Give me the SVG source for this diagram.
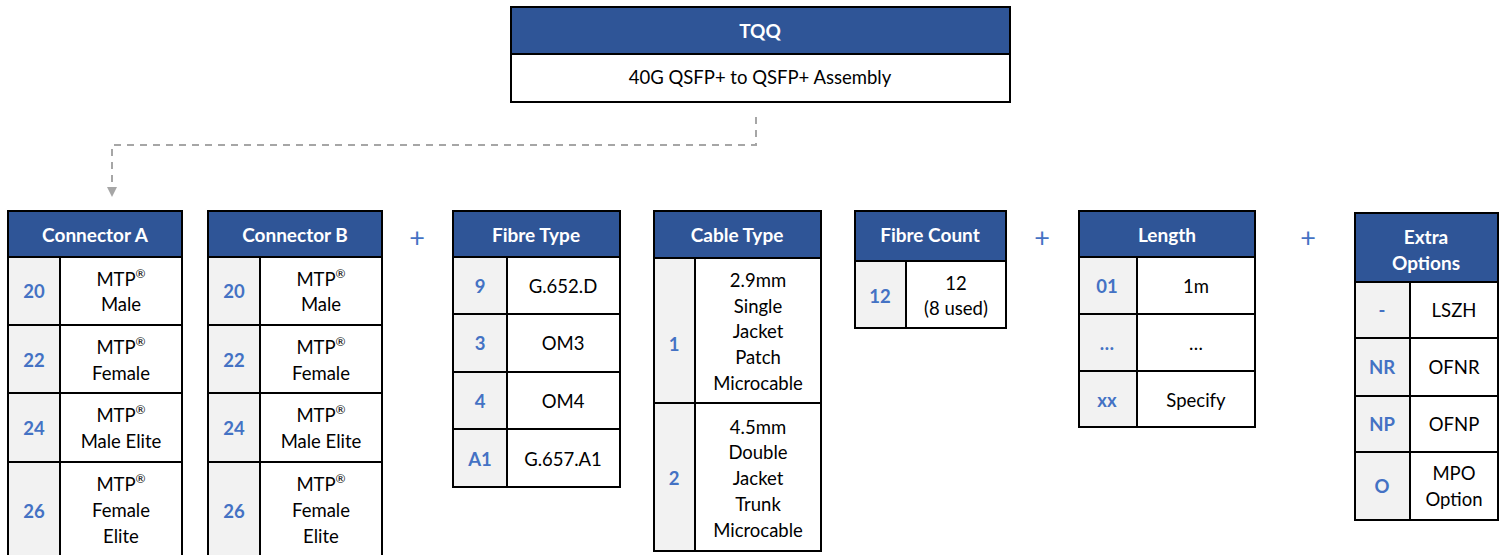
<svg xmlns="http://www.w3.org/2000/svg" width="1507" height="555" viewBox="0 0 1507 555">
<style>
  .hdr{fill:#2F5597;stroke:#000;stroke-width:2}
  .cell{fill:#fff;stroke:#000;stroke-width:2}
  .code{fill:#F2F2F2;stroke:#000;stroke-width:2}
  text{font-family:"Lato","Open Sans","Liberation Sans",sans-serif;font-size:18.5px;text-anchor:middle;dominant-baseline:central}
  .ht{fill:#fff;font-weight:bold;font-size:19px}
  .ct{fill:#4472C4;font-weight:bold}
  .bt{fill:#000}
  .plus{fill:#4472C4;font-size:27px}
  .sup{font-size:12px}
  .conn{fill:none;stroke:#A6A6A6;stroke-width:2;stroke-dasharray:7 6}
</style>

<g id="connectors">
  <path class="conn" d="M756,117 V145 H112 V186"/>
  <path d="M107,187 L117,187 L112,197 Z" fill="#A6A6A6"/>
</g>

<g id="tqq">
  <rect class="hdr" x="511" y="7" width="499" height="47"/>
  <rect class="cell" x="511" y="54" width="499" height="48"/>
  <text class="ht" x="760" y="30">TQQ</text>
  <text class="bt" x="760" y="77">40G QSFP+ to QSFP+ Assembly</text>
</g>

<g id="connector-a">
  <rect class="hdr" x="8" y="211" width="174" height="46"/>
  <text class="ht" x="95" y="234">Connector A</text>
  <rect class="code" x="8" y="257" width="52" height="68"/>
  <rect class="cell" x="60" y="257" width="122" height="68"/>
  <rect class="code" x="8" y="325" width="52" height="68"/>
  <rect class="cell" x="60" y="325" width="122" height="68"/>
  <rect class="code" x="8" y="393" width="52" height="69"/>
  <rect class="cell" x="60" y="393" width="122" height="69"/>
  <rect class="code" x="8" y="462" width="52" height="100"/>
  <rect class="cell" x="60" y="462" width="122" height="100"/>
  <text class="ct" x="34" y="291">20</text>
  <text class="bt" x="121" y="279">MTP<tspan class="sup" dy="-6">®</tspan></text>
  <text class="bt" x="121" y="304">Male</text>
  <text class="ct" x="34" y="360">22</text>
  <text class="bt" x="121" y="347">MTP<tspan class="sup" dy="-6">®</tspan></text>
  <text class="bt" x="121" y="373">Female</text>
  <text class="ct" x="34" y="428">24</text>
  <text class="bt" x="121" y="415">MTP<tspan class="sup" dy="-6">®</tspan></text>
  <text class="bt" x="121" y="441">Male Elite</text>
  <text class="ct" x="34" y="511">26</text>
  <text class="bt" x="121" y="484">MTP<tspan class="sup" dy="-6">®</tspan></text>
  <text class="bt" x="121" y="510">Female</text>
  <text class="bt" x="121" y="536">Elite</text>
</g>

<g id="connector-b">
  <rect class="hdr" x="208" y="211" width="174" height="46"/>
  <text class="ht" x="295" y="234">Connector B</text>
  <rect class="code" x="208" y="257" width="52" height="68"/>
  <rect class="cell" x="260" y="257" width="122" height="68"/>
  <rect class="code" x="208" y="325" width="52" height="68"/>
  <rect class="cell" x="260" y="325" width="122" height="68"/>
  <rect class="code" x="208" y="393" width="52" height="69"/>
  <rect class="cell" x="260" y="393" width="122" height="69"/>
  <rect class="code" x="208" y="462" width="52" height="100"/>
  <rect class="cell" x="260" y="462" width="122" height="100"/>
  <text class="ct" x="234" y="291">20</text>
  <text class="bt" x="321" y="279">MTP<tspan class="sup" dy="-6">®</tspan></text>
  <text class="bt" x="321" y="304">Male</text>
  <text class="ct" x="234" y="360">22</text>
  <text class="bt" x="321" y="347">MTP<tspan class="sup" dy="-6">®</tspan></text>
  <text class="bt" x="321" y="373">Female</text>
  <text class="ct" x="234" y="428">24</text>
  <text class="bt" x="321" y="415">MTP<tspan class="sup" dy="-6">®</tspan></text>
  <text class="bt" x="321" y="441">Male Elite</text>
  <text class="ct" x="234" y="511">26</text>
  <text class="bt" x="321" y="484">MTP<tspan class="sup" dy="-6">®</tspan></text>
  <text class="bt" x="321" y="510">Female</text>
  <text class="bt" x="321" y="536">Elite</text>
</g>

<g id="plus-1"><text class="plus" x="417" y="236">+</text></g>

<g id="fibre-type">
  <rect class="hdr" x="453" y="211" width="167" height="46"/>
  <text class="ht" x="536" y="234">Fibre Type</text>
  <rect class="code" x="453" y="257" width="54" height="57"/>
  <rect class="cell" x="507" y="257" width="113" height="57"/>
  <rect class="code" x="453" y="314" width="54" height="58"/>
  <rect class="cell" x="507" y="314" width="113" height="58"/>
  <rect class="code" x="453" y="372" width="54" height="57"/>
  <rect class="cell" x="507" y="372" width="113" height="57"/>
  <rect class="code" x="453" y="429" width="54" height="58"/>
  <rect class="cell" x="507" y="429" width="113" height="58"/>
  <text class="ct" x="480" y="286">9</text>
  <text class="bt" x="563" y="286">G.652.D</text>
  <text class="ct" x="480" y="343">3</text>
  <text class="bt" x="563" y="343">OM3</text>
  <text class="ct" x="480" y="401">4</text>
  <text class="bt" x="563" y="401">OM4</text>
  <text class="ct" x="480" y="459">A1</text>
  <text class="bt" x="563" y="459">G.657.A1</text>
</g>

<g id="cable-type">
  <rect class="hdr" x="654" y="211" width="167" height="47"/>
  <text class="ht" x="737" y="234">Cable Type</text>
  <rect class="code" x="654" y="258" width="41" height="145"/>
  <rect class="cell" x="695" y="258" width="126" height="145"/>
  <rect class="code" x="654" y="403" width="41" height="148"/>
  <rect class="cell" x="695" y="403" width="126" height="148"/>
  <text class="ct" x="674" y="344">1</text>
  <text class="bt" x="758" y="280">2.9mm</text>
  <text class="bt" x="758" y="306">Single</text>
  <text class="bt" x="758" y="331">Jacket</text>
  <text class="bt" x="758" y="357">Patch</text>
  <text class="bt" x="758" y="383">Microcable</text>
  <text class="ct" x="674" y="478">2</text>
  <text class="bt" x="758" y="427">4.5mm</text>
  <text class="bt" x="758" y="452">Double</text>
  <text class="bt" x="758" y="478">Jacket</text>
  <text class="bt" x="758" y="504">Trunk</text>
  <text class="bt" x="758" y="530">Microcable</text>
</g>

<g id="fibre-count">
  <rect class="hdr" x="855" y="211" width="151" height="50"/>
  <text class="ht" x="930" y="234">Fibre Count</text>
  <rect class="code" x="855" y="261" width="51" height="67"/>
  <rect class="cell" x="906" y="261" width="100" height="67"/>
  <text class="ct" x="880" y="296">12</text>
  <text class="bt" x="956" y="283">12</text>
  <text class="bt" x="956" y="308">(8 used)</text>
</g>

<g id="plus-2"><text class="plus" x="1042" y="236">+</text></g>

<g id="length">
  <rect class="hdr" x="1079" y="211" width="176" height="46"/>
  <text class="ht" x="1167" y="234">Length</text>
  <rect class="code" x="1079" y="257" width="58" height="57"/>
  <rect class="cell" x="1137" y="257" width="118" height="57"/>
  <rect class="code" x="1079" y="314" width="58" height="57"/>
  <rect class="cell" x="1137" y="314" width="118" height="57"/>
  <rect class="code" x="1079" y="371" width="58" height="56"/>
  <rect class="cell" x="1137" y="371" width="118" height="56"/>
  <text class="ct" x="1107" y="286">01</text>
  <text class="bt" x="1196" y="286">1m</text>
  <text class="ct" x="1107" y="343">…</text>
  <text class="bt" x="1196" y="343">…</text>
  <text class="ct" x="1107" y="400">xx</text>
  <text class="bt" x="1196" y="400">Specify</text>
</g>

<g id="plus-3"><text class="plus" x="1308" y="236">+</text></g>

<g id="extra-options">
  <rect class="hdr" x="1355" y="213" width="143" height="69"/>
  <text class="ht" x="1426" y="236">Extra</text>
  <text class="ht" x="1426" y="262">Options</text>
  <rect class="code" x="1355" y="282" width="55" height="56"/>
  <rect class="cell" x="1410" y="282" width="88" height="56"/>
  <rect class="code" x="1355" y="338" width="55" height="58"/>
  <rect class="cell" x="1410" y="338" width="88" height="58"/>
  <rect class="code" x="1355" y="396" width="55" height="56"/>
  <rect class="cell" x="1410" y="396" width="88" height="56"/>
  <rect class="code" x="1355" y="452" width="55" height="68"/>
  <rect class="cell" x="1410" y="452" width="88" height="68"/>
  <text class="ct" x="1382" y="310">-</text>
  <text class="bt" x="1454" y="310">LSZH</text>
  <text class="ct" x="1382" y="367">NR</text>
  <text class="bt" x="1454" y="367">OFNR</text>
  <text class="ct" x="1382" y="424">NP</text>
  <text class="bt" x="1454" y="424">OFNP</text>
  <text class="ct" x="1382" y="486">O</text>
  <text class="bt" x="1454" y="473">MPO</text>
  <text class="bt" x="1454" y="499">Option</text>
</g>
</svg>
